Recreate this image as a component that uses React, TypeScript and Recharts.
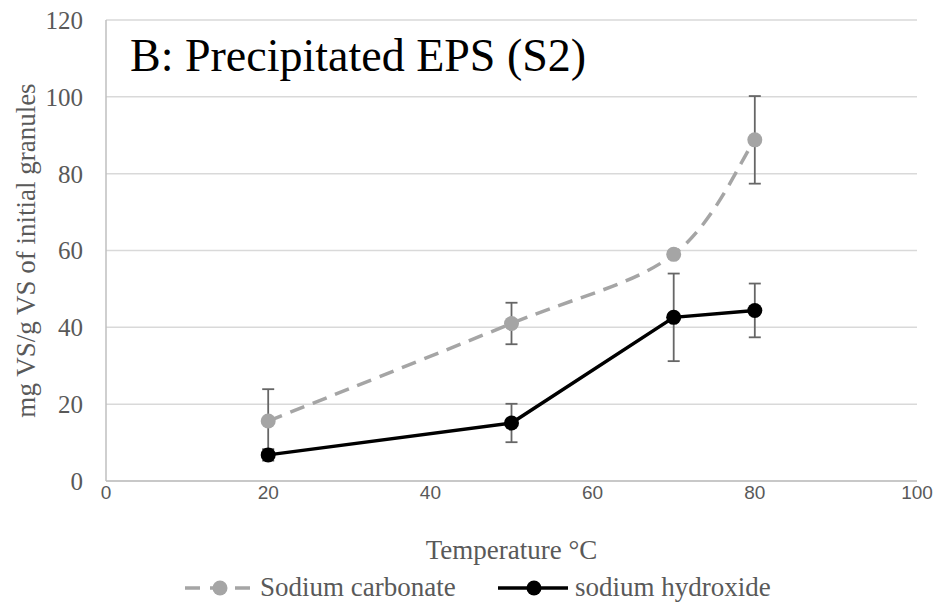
import React from "react";
import {
  LineChart,
  Line,
  XAxis,
  YAxis,
  CartesianGrid,
  ErrorBar,
  Legend,
} from "recharts";

const temperatures = [20, 50, 70, 80];
const carbonate = [15.6, 41.0, 59.0, 88.8];
const carbonateErr = [8.3, 5.4, 0, 11.4];
const hydroxide = [6.8, 15.1, 42.6, 44.4];
const hydroxideErr = [1.5, 5.0, 11.4, 7.0];
const xTicks = [0, 20, 40, 60, 80, 100];
const yTicks = [0, 20, 40, 60, 80, 100, 120];

const GRAY = "#A5A5A5";
const TEXT = "#595959";
const SERIF = "'Liberation Serif', 'Times New Roman', serif";
const SANS = "'Liberation Sans', Arial, sans-serif";

const data = temperatures.map((t, i) => ({
  temp: t,
  carbonate: carbonate[i],
  carbonateErr: carbonateErr[i],
  hydroxide: hydroxide[i],
  hydroxideErr: hydroxideErr[i],
}));

// Excel-style smoothed line (Catmull-Rom as cubic beziers)
function smoothCurve(context: any) {
  let pts: number[][] = [];
  return {
    areaStart() {},
    areaEnd() {},
    lineStart() {
      pts = [];
    },
    point(x: number, y: number) {
      pts.push([+x, +y]);
    },
    lineEnd() {
      if (!pts.length) return;
      context.moveTo(pts[0][0], pts[0][1]);
      for (let i = 0; i < pts.length - 1; i++) {
        const p0 = pts[i - 1] || pts[i];
        const p1 = pts[i];
        const p2 = pts[i + 1];
        const p3 = pts[i + 2] || p2;
        context.bezierCurveTo(
          p1[0] + (p2[0] - p0[0]) / 6,
          p1[1] + (p2[1] - p0[1]) / 6,
          p2[0] - (p3[0] - p1[0]) / 6,
          p2[1] - (p3[1] - p1[1]) / 6,
          p2[0],
          p2[1]
        );
      }
    },
  };
}

function LegendContent() {
  return (
    <svg width={946} height={30} style={{ display: "block" }}>
      <g fontFamily={SERIF} fontSize={27} fill={TEXT}>
        <line x1={185} y1={15} x2={255} y2={15} stroke={GRAY} strokeWidth={3.5} strokeDasharray="15 10" />
        <circle cx={220} cy={15} r={7.5} fill={GRAY} />
        <text x={260} y={23}>Sodium carbonate</text>
        <line x1={498} y1={15} x2={568} y2={15} stroke="#000" strokeWidth={3.5} />
        <circle cx={534} cy={15} r={7.5} fill="#000" />
        <text x={575} y={23}>sodium hydroxide</text>
      </g>
    </svg>
  );
}

export default function App() {
  return (
    <div style={{ position: "absolute", left: 0, top: 0, background: "#fff" }}>
      <LineChart
        width={946}
        height={607}
        data={data}
        margin={{ top: 20, right: 29, left: 0, bottom: 16 }}
      >
        <CartesianGrid vertical={false} stroke="#D9D9D9" strokeWidth={1.5} />
        <XAxis
          dataKey="temp"
          type="number"
          domain={[0, 100]}
          ticks={xTicks}
          height={80}
          tickLine={false}
          tickSize={0}
          tickMargin={5}
          axisLine={{ stroke: "#BFBFBF", strokeWidth: 1.5 }}
          tick={{ fill: TEXT, fontFamily: SANS, fontSize: 19 }}
          label={{
            value: "Temperature °C",
            position: "insideBottom",
            offset: 2,
            fill: TEXT,
            fontFamily: SERIF,
            fontSize: 27,
          }}
        />
        <YAxis
          type="number"
          domain={[0, 120]}
          ticks={yTicks}
          width={106}
          tickLine={false}
          tickSize={0}
          tickMargin={23}
          axisLine={{ stroke: "#BFBFBF", strokeWidth: 1.5 }}
          tick={{ fill: TEXT, fontFamily: SERIF, fontSize: 25 }}
          label={{
            value: "mg VS/g VS of initial granules",
            angle: -90,
            position: "insideLeft",
            offset: 25,
            fill: TEXT,
            fontFamily: SERIF,
            fontSize: 27,
            style: { textAnchor: "middle" },
          }}
        />
        <Legend verticalAlign="bottom" wrapperStyle={{ left: 0, bottom: 4 }} content={<LegendContent />} />
        <Line
          type={smoothCurve as any}
          dataKey="carbonate"
          stroke={GRAY}
          strokeWidth={3.5}
          strokeDasharray="15 9"
          dot={{ r: 7.5, fill: GRAY, stroke: GRAY, strokeWidth: 0 }}
          isAnimationActive={false}
        >
          <ErrorBar dataKey="carbonateErr" direction="y" width={6} stroke="#666666" strokeWidth={1.8} />
        </Line>
        <Line
          type="linear"
          dataKey="hydroxide"
          stroke="#000000"
          strokeWidth={3.5}
          dot={{ r: 7.5, fill: "#000", stroke: "#000", strokeWidth: 0 }}
          isAnimationActive={false}
        >
          <ErrorBar dataKey="hydroxideErr" direction="y" width={6} stroke="#666666" strokeWidth={1.8} />
        </Line>
        <text x={130} y={71} fontFamily={SERIF} fontSize={46} fill="#000">
          B: Precipitated EPS (S2)
        </text>
      </LineChart>
    </div>
  );
}
